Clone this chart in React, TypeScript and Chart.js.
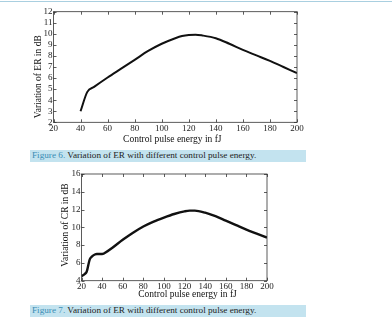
import React, { useEffect, useRef } from "react";
import { Chart, registerables } from "chart.js";

Chart.register(...registerables);

// ---- Data ----
const erEnergy = [40, 45, 50, 60, 70, 80, 90, 100, 110, 115, 120, 125, 130, 140, 150, 160, 170, 180, 190, 200];
const erValues = [3.0, 4.75, 5.2, 6.05, 6.85, 7.65, 8.45, 9.1, 9.6, 9.8, 9.9, 9.92, 9.85, 9.6, 9.1, 8.55, 8.05, 7.55, 7.0, 6.45];

const crEnergy = [20, 23, 25, 28, 30, 33, 35, 40, 45, 50, 60, 70, 80, 90, 100, 110, 120, 125, 130, 140, 150, 160, 170, 180, 190, 200];
const crValues = [4.5, 4.75, 5.0, 6.4, 6.7, 6.95, 7.0, 7.0, 7.3, 7.7, 8.6, 9.4, 10.1, 10.65, 11.1, 11.5, 11.8, 11.88, 11.88, 11.65, 11.25, 10.75, 10.25, 9.75, 9.3, 8.85];

const energyTicks = [20, 40, 60, 80, 100, 120, 140, 160, 180, 200];
const erTicks = [2, 3, 4, 5, 6, 7, 8, 9, 10, 11, 12];
const crTicks = [4, 6, 8, 10, 12, 14, 16];

const xTitleText = "Control pulse energy in fJ";
const erTitleText = "Variation of ER in dB";
const crTitleText = "Variation of CR in dB";
const caption6Label = "Figure 6.";
const caption7Label = "Figure 7.";
const captionText = " Variation of ER with different control pulse energy.";

const SERIF = "'Liberation Serif', 'Times New Roman', Times, serif";

const frameTicksPlugin = {
  id: "frameTicks",
  afterDraw(chart: any, _args: any, opts: any) {
    const { ctx, chartArea: a, scales } = chart;
    const xs = scales.x;
    const ys = scales.y;
    const L = opts.tickLen ?? 3;
    ctx.save();
    ctx.strokeStyle = "#333";
    ctx.lineWidth = 0.8;
    ctx.strokeRect(a.left, a.top, a.right - a.left, a.bottom - a.top);
    ctx.beginPath();
    xs.ticks.forEach((t: any) => {
      const px = Math.round(xs.getPixelForValue(t.value)) + 0.5;
      ctx.moveTo(px, a.bottom);
      ctx.lineTo(px, a.bottom - L);
      ctx.moveTo(px, a.top);
      ctx.lineTo(px, a.top + L);
    });
    ys.ticks.forEach((t: any) => {
      const py = Math.round(ys.getPixelForValue(t.value)) + 0.5;
      ctx.moveTo(a.left, py);
      ctx.lineTo(a.left + L, py);
      ctx.moveTo(a.right, py);
      ctx.lineTo(a.right - L, py);
    });
    ctx.stroke();
    ctx.fillStyle = "#111";
    ctx.font = `${opts.titleSize ?? 9.5}px ${SERIF}`;
    ctx.textAlign = "center";
    ctx.textBaseline = "middle";
    (opts.titles || []).forEach((t: any) => {
      ctx.save();
      ctx.translate(t.x, t.y);
      if (t.rotate) ctx.rotate(-Math.PI / 2);
      ctx.fillText(t.text, 0, 0);
      ctx.restore();
    });
    ctx.restore();
  },
};

type Cfg = {
  xs: number[];
  ys: number[];
  yTicks: number[];
  yMin: number;
  yMax: number;
  width: number;
  height: number;
  padTop: number;
  padRight: number;
  yAxisWidth: number;
  xAxisHeight: number;
  xTickPad: number;
  lineWidth: number;
  titles: any[];
};

function LineChart({ cfg, style }: { cfg: Cfg; style: React.CSSProperties }) {
  const ref = useRef<HTMLCanvasElement | null>(null);
  useEffect(() => {
    if (!ref.current) return;
    const chart = new Chart(ref.current, {
      type: "line",
      data: {
        datasets: [
          {
            data: cfg.xs.map((x, i) => ({ x, y: cfg.ys[i] })),
            borderColor: "#111",
            borderWidth: cfg.lineWidth,
            pointRadius: 0,
            cubicInterpolationMode: "monotone",
            fill: false,
          },
        ],
      },
      options: {
        animation: false,
        responsive: false,
        maintainAspectRatio: false,
        layout: { padding: { left: 0, top: cfg.padTop, right: cfg.padRight, bottom: 0 } },
        plugins: {
          legend: { display: false },
          tooltip: { enabled: false },
          frameTicks: { tickLen: 3, titleSize: 9.5, titles: cfg.titles },
        } as any,
        scales: {
          x: {
            type: "linear",
            min: 20,
            max: 200,
            grid: { display: false, drawTicks: false },
            border: { display: false },
            afterBuildTicks: (s: any) => {
              s.ticks = energyTicks.map((v) => ({ value: v }));
            },
            afterFit: (s: any) => {
              s.height = cfg.xAxisHeight;
            },
            ticks: {
              color: "#222",
              padding: cfg.xTickPad,
              maxRotation: 0,
              autoSkip: false,
              font: { family: SERIF, size: 9 },
            },
          },
          y: {
            type: "linear",
            min: cfg.yMin,
            max: cfg.yMax,
            grid: { display: false, drawTicks: false },
            border: { display: false },
            afterBuildTicks: (s: any) => {
              s.ticks = cfg.yTicks.map((v) => ({ value: v }));
            },
            afterFit: (s: any) => {
              s.width = cfg.yAxisWidth;
            },
            ticks: {
              color: "#222",
              padding: 1,
              autoSkip: false,
              font: { family: SERIF, size: 9 },
            },
          },
        },
      },
      plugins: [frameTicksPlugin as any],
    });
    return () => chart.destroy();
  }, []);
  return (
    <canvas
      ref={ref}
      width={cfg.width}
      height={cfg.height}
      style={{ position: "absolute", width: cfg.width, height: cfg.height, ...style }}
    />
  );
}

function Caption({ label, top }: { label: string; top: number }) {
  return (
    <div
      style={{
        position: "absolute",
        left: 30,
        top,
        width: 276,
        height: 11.5,
        background: "#c3e3ef",
        fontFamily: SERIF,
        fontSize: 9.2,
        fontWeight: 400,
        lineHeight: "11.5px",
        whiteSpace: "nowrap",
        color: "#222",
        paddingLeft: 2,
        boxSizing: "border-box",
      }}
    >
      <span style={{ color: "#3a8db5" }}>{label}</span>
      {captionText}
    </div>
  );
}

export default function App() {
  const erCfg: Cfg = {
    xs: erEnergy,
    ys: erValues,
    yTicks: erTicks,
    yMin: 2,
    yMax: 12,
    width: 310,
    height: 148,
    padTop: 11.7,
    padRight: 13,
    yAxisWidth: 53.5,
    xAxisHeight: 148 - 122.3,
    xTickPad: 1.3,
    lineWidth: 2,
    titles: [
      { text: erTitleText, x: 38, y: 76.7, rotate: true },
      { text: xTitleText, x: 172.3, y: 139.3, rotate: false },
    ],
  };
  const crCfg: Cfg = {
    xs: crEnergy,
    ys: crValues,
    yTicks: crTicks,
    yMin: 4,
    yMax: 16,
    width: 310,
    height: 140,
    padTop: 12,
    padRight: 43,
    yAxisWidth: 81.5,
    xAxisHeight: 140 - 118.7,
    xTickPad: 1,
    lineWidth: 2.4,
    titles: [
      { text: crTitleText, x: 65, y: 63, rotate: true },
      { text: xTitleText, x: 187.5, y: 132, rotate: false },
    ],
  };
  return (
    <div
      style={{
        position: "fixed",
        left: 0,
        top: 0,
        width: 392,
        height: 321,
        background: "#fff",
        overflow: "hidden",
      }}
    >
      <div style={{ position: "absolute", left: 0, top: 0.5, width: 392, height: 1.5, background: "#a9cfe0" }} />
      <LineChart cfg={erCfg} style={{ left: 0, top: 0 }} />
      <Caption label={caption6Label} top={150} />
      <LineChart cfg={crCfg} style={{ left: 0, top: 162 }} />
      <Caption label={caption7Label} top={305} />
    </div>
  );
}
